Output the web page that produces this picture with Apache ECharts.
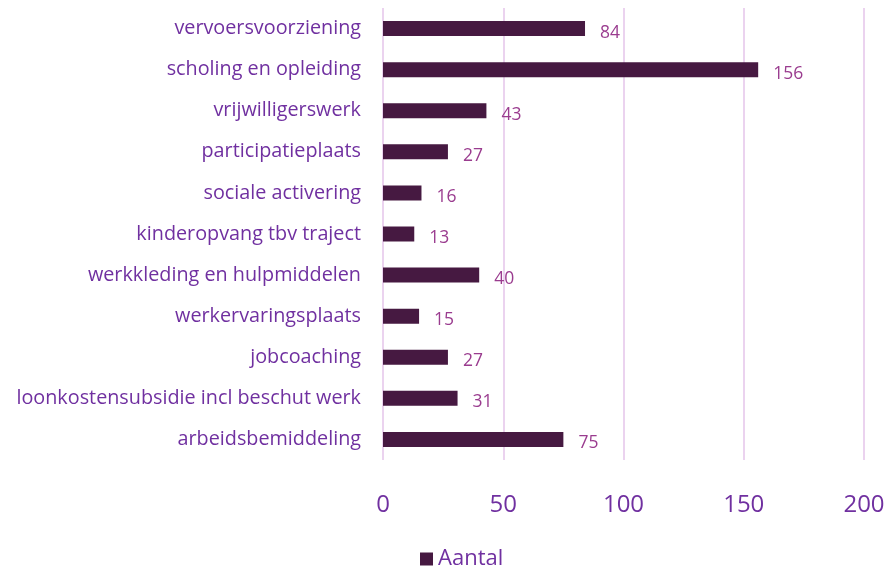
<!DOCTYPE html>
<html><head><meta charset="utf-8">
<script src="https://cdn.jsdelivr.net/npm/echarts@6/dist/echarts.min.js"></script>
<style>html,body{margin:0;padding:0;background:#fff}#c{width:891px;height:568px}</style>
</head><body><div id="c"></div>
<script>
const categories = ["vervoersvoorziening","scholing en opleiding","vrijwilligerswerk","participatieplaats","sociale activering","kinderopvang tbv traject","werkkleding en hulpmiddelen","werkervaringsplaats","jobcoaching","loonkostensubsidie incl beschut werk","arbeidsbemiddeling"];
const values = [84,156,43,27,16,13,40,15,27,31,75];
const seriesName = "Aantal";
const xTicks = [0,50,100,150,200];
const FONT = "Open Sans";
const chart = echarts.init(document.getElementById('c'), null, {renderer:'canvas'});
chart.setOption({
  animation:false,
  textStyle:{fontFamily:FONT},
  grid:{left:383,right:27,top:8,bottom:108,containLabel:false},
  legend:{bottom:-7,left:415,itemWidth:13,itemHeight:13,itemGap:7,
    data:[seriesName],
    textStyle:{color:'#7030A0',fontSize:22,fontFamily:FONT},icon:'rect'},
  xAxis:{type:'value',min:xTicks[0],max:xTicks[xTicks.length-1],interval:50,
    axisLine:{show:false},axisTick:{show:false},
    splitLine:{lineStyle:{color:'#EBD3EF',width:2}},
    axisLabel:{color:'#7030A0',fontSize:24,margin:33,fontFamily:FONT}},
  yAxis:{type:'category',data:categories,inverse:true,
    axisLine:{show:false},axisTick:{show:false},
    axisLabel:{color:'#7030A0',fontSize:19.8,margin:22,fontFamily:FONT,padding:[4,0,0,0]}},
  series:[{name:seriesName,type:'bar',data:values,barWidth:15,
    itemStyle:{color:'#461941'},
    label:{show:true,position:'right',distance:15,color:'#9A3C8F',fontSize:17.5,fontFamily:FONT,offset:[0,4]}}]
});
</script></body></html>
